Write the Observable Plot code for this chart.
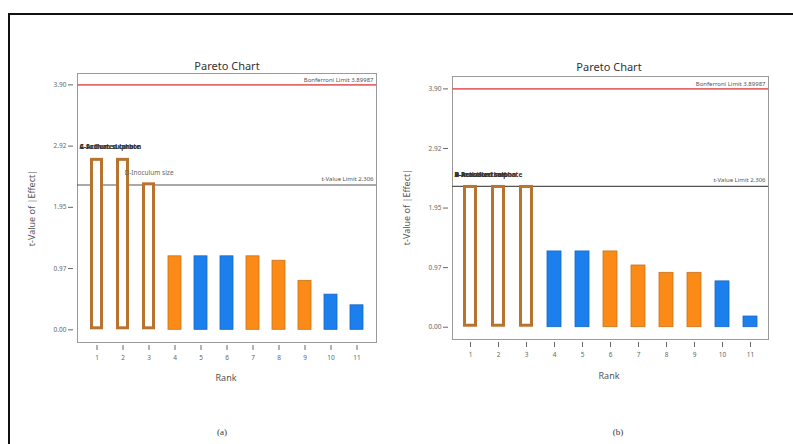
<!DOCTYPE html>
<html>
<head>
<meta charset="utf-8">
<script src="https://cdn.jsdelivr.net/npm/d3@7"></script>
<script src="https://cdn.jsdelivr.net/npm/@observablehq/plot@0.6"></script>
<style>
  html, body { margin: 0; padding: 0; background: #fff; }
  body { width: 793px; height: 444px; position: relative; overflow: hidden; font-family: "Noto Sans", sans-serif; }
  #outer { position: absolute; left: 8px; top: 13px; width: 800px; height: 450px; border-left: 2px solid #111; border-top: 2px solid #111; }
  .panel { position: absolute; top: 0; }
  .title { position: absolute; font-size: 11px; color: #333; transform: translate(-50%, -50%); white-space: nowrap; }
  .alab { position: absolute; font-size: 9px; color: #555; transform: translate(-50%, -50%); white-space: nowrap; }
  .ylab { position: absolute; font-size: 9px; color: #555; transform: translate(-50%, -50%) rotate(-90deg); white-space: nowrap; }
  .cap { position: absolute; font-family: "Liberation Serif", serif; font-size: 9px; color: #333; transform: translate(-50%, -50%); }
</style>
</head>
<body>
<div id="outer"></div>
<div id="left" class="panel" style="left:0px"></div>
<div id="right" class="panel" style="left:396px"></div>
<div class="title" style="left:227px; top:65px">Pareto Chart</div>
<div class="title" style="left:609px; top:66px">Pareto Chart</div>
<div class="ylab" style="left:31px; top:208px">t-Value of |Effect|</div>
<div class="ylab" style="left:406px; top:207px">t-Value of |Effect|</div>
<div class="alab" style="left:226px; top:377px">Rank</div>
<div class="alab" style="left:609px; top:375px">Rank</div>
<div class="cap" style="left:222px; top:432px">(a)</div>
<div class="cap" style="left:618px; top:432px">(b)</div>
<script>
// ---- data ----
const ranks = [1, 2, 3, 4, 5, 6, 7, 8, 9, 10, 11];
const yTickValues = [0, 0.975, 1.95, 2.925, 3.9];
const yTickLabels = ["0.00", "0.97", "1.95", "2.92", "3.90"];
const bonferroniLimit = 3.89987;
const tValueLimit = 2.306;

const valuesA = [2.73, 2.73, 2.34, 1.17, 1.17, 1.17, 1.17, 1.10, 0.78, 0.56, 0.39];
const typesA  = ["sig", "sig", "sig", "pos", "neg", "neg", "pos", "pos", "pos", "neg", "neg"];
const stackedLabelsA = ["A-Activated carbon", "C-Sodium sulphate"];
const barLabelRankA = 3;
const barLabelA = "D-Inoculum size";

const valuesB = [2.32, 2.32, 2.32, 1.24, 1.24, 1.24, 1.01, 0.89, 0.89, 0.75, 0.175];
const typesB  = ["sig", "sig", "sig", "neg", "neg", "pos", "pos", "pos", "pos", "neg", "neg"];
const stackedLabelsB = ["B-Reaction time", "A-Activated carbon", "D-Inoculum sulphate"];

// ---- styles ----
const fills = { sig: "#ffffff", pos: "#fb8a17", neg: "#1b80ee" };
const strokes = { sig: "#b8742f", pos: "#c8731c", neg: "#1566c4" };

function panel(values, types, opts) {
  const data = ranks.map((r, i) => ({ rank: r, value: values[i], type: types[i] }));
  const hollow = data.filter(d => d.type === "sig");
  const solid = data.filter(d => d.type !== "sig");
  const marks = [
    Plot.frame({ stroke: "#9a9a9a", strokeWidth: 1 }),
    Plot.ruleY([bonferroniLimit], { stroke: "#e26a6a", strokeWidth: 1.6 }),
    Plot.ruleY([tValueLimit], { stroke: "#555", strokeWidth: 1.2 }),
    Plot.text(["Bonferroni Limit " + bonferroniLimit], { y: bonferroniLimit, frameAnchor: "right", dx: -3, dy: -5, textAnchor: "end", fontSize: 6, fill: "#555" }),
    Plot.text(["t-Value Limit " + tValueLimit], { y: tValueLimit, frameAnchor: "right", dx: -3, dy: -6, textAnchor: "end", fontSize: 6, fill: "#555" }),
    Plot.barY(solid, { x: "rank", y: "value", fill: d => fills[d.type], stroke: d => strokes[d.type], strokeWidth: 0.8 }),
    Plot.barY(hollow, { x: "rank", y: "value", fill: "#fff", stroke: strokes.sig, strokeWidth: 3, inset: 1.5 }),
    Plot.axisY({ ticks: yTickValues, tickFormat: (d, i) => yTickLabels[i], tickSize: 5, tickPadding: 2, dx: -4, fontSize: 6.5, color: "#666", label: null }),
    Plot.axisX({ tickSize: 5, tickPadding: 5, dy: 3, fontSize: 6.5, color: "#666", label: null })
  ];
  opts.labels.forEach(l => marks.push(l));
  return Plot.plot({
    width: opts.width, height: 400,
    marginLeft: opts.ml, marginRight: opts.mr, marginTop: opts.mt, marginBottom: opts.mb,
    style: { fontFamily: "Noto Sans, sans-serif", fontSize: "9px", color: "#555", background: "transparent" },
    x: { type: "band", domain: ranks, paddingInner: 0.5, paddingOuter: opts.po },
    y: { domain: opts.ydom },
    marks
  });
}

const maxA = valuesA[0];
const leftPlot = panel(valuesA, typesA, {
  width: 396, ml: 77, mr: 20, mt: 73, mb: 58, po: 0.33, ydom: [-0.202, 4.081],
  labels: [
    Plot.text(stackedLabelsA, { y: () => maxA, frameAnchor: "left", dx: 2, dy: -11, textAnchor: "start", fontSize: 6.5, fontWeight: "bold", fill: "#333" }),
    Plot.text([barLabelA], { x: () => barLabelRankA, y: () => valuesA[barLabelRankA - 1], dy: -10, textAnchor: "middle", fontSize: 6.5, fill: "#666" })
  ]
});
const maxB = valuesB[0];
const rightPlot = panel(valuesB, typesB, {
  width: 397, ml: 56, mr: 25, mt: 76, mb: 61, po: 0.315, ydom: [-0.201, 4.103],
  labels: [
    Plot.text(stackedLabelsB, { y: () => maxB, frameAnchor: "left", dx: 2, dy: -11, textAnchor: "start", fontSize: 6.5, fontWeight: "bold", fill: "#333" })
  ]
});
document.getElementById("left").appendChild(leftPlot);
document.getElementById("right").appendChild(rightPlot);
</script>
</body>
</html>
